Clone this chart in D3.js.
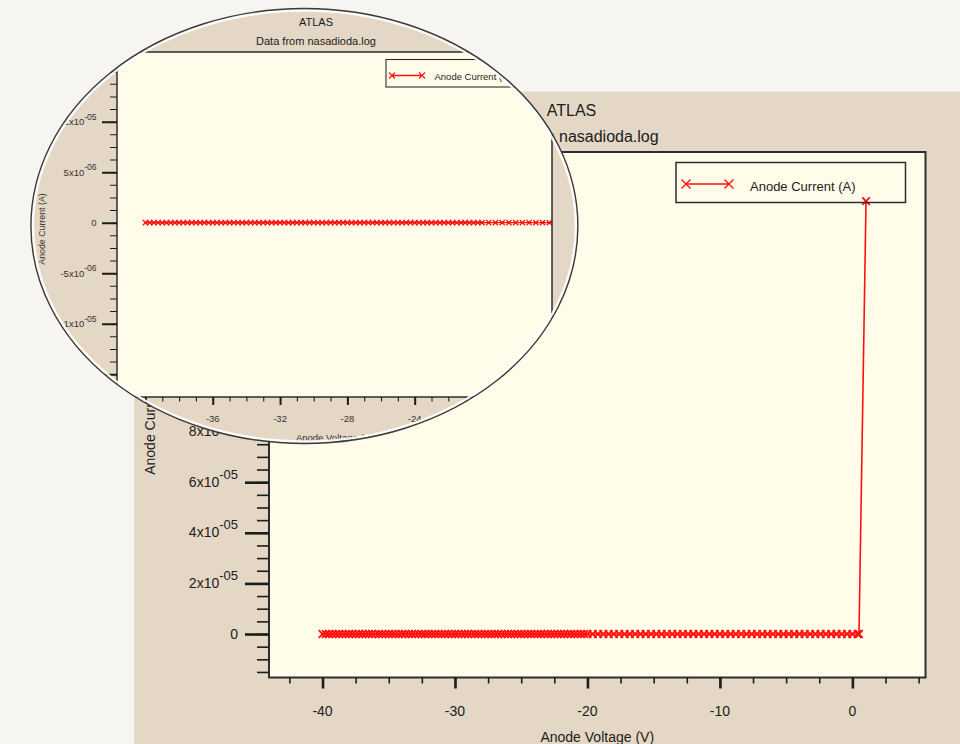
<!DOCTYPE html>
<html>
<head>
<meta charset="utf-8">
<script src="https://cdn.jsdelivr.net/npm/d3@7"></script>
<style>
  html, body { margin: 0; padding: 0; background: #f6f5f2; }
  svg { display: block; font-family: "Liberation Sans", Arial, sans-serif; }
</style>
</head>
<body>
<svg id="chart" width="960" height="744"></svg>
<script>
// ---- data: anode I-V sweep from nasadioda.log ----
const titleLines = ["ATLAS", "Data from nasadioda.log"];
const seriesName = "Anode Current (A)";
const xTitle = "Anode Voltage (V)";
const yTitle = "Anode Current (A)";

const anodeVoltage = [
  -40, -39.75, -39.5, -39.25, -39, -38.75, -38.5, -38.25, -38, -37.75,
  -37.5, -37.25, -37, -36.75, -36.5, -36.25, -36, -35.75, -35.5, -35.25,
  -35, -34.75, -34.5, -34.25, -34, -33.75, -33.5, -33.25, -33, -32.75,
  -32.5, -32.25, -32, -31.75, -31.5, -31.25, -31, -30.75, -30.5, -30.25,
  -30, -29.75, -29.5, -29.25, -29, -28.75, -28.5, -28.25, -28, -27.75,
  -27.5, -27.25, -27, -26.75, -26.5, -26.25, -26, -25.75, -25.5, -25.25,
  -25, -24.75, -24.5, -24.25, -24, -23.75, -23.5, -23.25, -23, -22.75,
  -22.5, -22.25, -22, -21.75, -21.5, -21.25, -21, -20.75, -20.5, -20.25,
  -20,
  -19.6, -19.2, -18.8, -18.4, -18, -17.6, -17.2, -16.8, -16.4, -16,
  -15.6, -15.2, -14.8, -14.4, -14, -13.6, -13.2, -12.8, -12.4, -12,
  -11.6, -11.2, -10.8, -10.4, -10, -9.6, -9.2, -8.8, -8.4, -8,
  -7.6, -7.2, -6.8, -6.4, -6, -5.6, -5.2, -4.8, -4.4, -4,
  -3.6, -3.2, -2.8, -2.4, -2, -1.6, -1.2, -0.8, -0.4, 0,
  0.4, 0.5, 1.03
];

const anodeCurrent = [
  0, 0, 0, 0, 0, 0, 0, 0, 0, 0,
  0, 0, 0, 0, 0, 0, 0, 0, 0, 0,
  0, 0, 0, 0, 0, 0, 0, 0, 0, 0,
  0, 0, 0, 0, 0, 0, 0, 0, 0, 0,
  0, 0, 0, 0, 0, 0, 0, 0, 0, 0,
  0, 0, 0, 0, 0, 0, 0, 0, 0, 0,
  0, 0, 0, 0, 0, 0, 0, 0, 0, 0,
  0, 0, 0, 0, 0, 0, 0, 0, 0, 0,
  0,
  0, 0, 0, 0, 0, 0, 0, 0, 0, 0,
  0, 0, 0, 0, 0, 0, 0, 0, 0, 0,
  0, 0, 0, 0, 0, 0, 0, 0, 0, 0,
  0, 0, 0, 0, 0, 0, 0, 0, 0, 0,
  0, 0, 0, 0, 0, 0, 0, 0, 0, 0,
  0, 0, 1.711e-4
];

// tick values: full view and magnified view
const mainXTicks = [-40, -30, -20, -10, 0];
const mainYTicks = [0, 2e-5, 4e-5, 6e-5, 8e-5, 1e-4, 1.2e-4, 1.4e-4, 1.6e-4, 1.8e-4];
const zoomXTicks = [-40, -36, -32, -28, -24, -20, -16];
const zoomYTicks = [-1.5e-5, -1e-5, -5e-6, 0, 5e-6, 1e-5, 1.5e-5];

// ---- styling ----
const PAGE_BG = "#f6f5f2";
const PANEL_BG = "#e4d7c5";
const PLOT_BG = "#fffde9";
const INK = "#1c1c1c";
const FRAME = "#2e2e2e";
const RED = "#ff1010";

const svg = d3.select("#chart");
const defs = svg.append("defs");

const xPath = s => `M${-s},${-s}L${s},${s}M${-s},${s}L${s},${-s}`;

// scientific label "2x10" with superscript "-05"
function sciParts(v) {
  if (Math.abs(v) < 1e-15) return ["0", ""];
  const e = Math.floor(Math.log10(Math.abs(v)) + 1e-9);
  const m = +(v / Math.pow(10, e)).toFixed(2);
  const es = (e < 0 ? "-" : "+") + String(Math.abs(e)).padStart(2, "0");
  return [m + "x10", es];
}

function minorValues(domain, step) {
  const lo = Math.min(domain[0], domain[1]), hi = Math.max(domain[0], domain[1]);
  return d3.range(Math.ceil(lo / step - 1e-9), Math.floor(hi / step + 1e-9) + 1).map(k => k * step);
}

function drawPlot(root, cfg, id) {
  const x = d3.scaleLinear().domain(cfg.xDomain).range([cfg.left, cfg.right]);
  const y = d3.scaleLinear().domain(cfg.yDomain).range([cfg.bottom, cfg.top]);

  // plot area
  root.append("rect")
    .attr("x", cfg.left).attr("y", cfg.top)
    .attr("width", cfg.right - cfg.left).attr("height", cfg.bottom - cfg.top)
    .attr("fill", PLOT_BG);

  // titles
  titleLines.forEach((t, i) => {
    root.append("text")
      .attr("x", cfg.titleX).attr("y", cfg.titleY[i])
      .attr("text-anchor", "middle")
      .attr("font-size", cfg.titleSize)
      .attr("fill", INK)
      .text(t);
  });

  // data, clipped to the plot area
  defs.append("clipPath").attr("id", id + "-plotclip")
    .append("rect")
    .attr("x", cfg.left).attr("y", cfg.top)
    .attr("width", cfg.right - cfg.left).attr("height", cfg.bottom - cfg.top);

  const pts = anodeVoltage.map((v, i) => [v, anodeCurrent[i]]);
  const dataG = root.append("g").attr("clip-path", `url(#${id}-plotclip)`);
  dataG.append("path")
    .datum(pts)
    .attr("d", d3.line().x(d => x(d[0])).y(d => y(d[1])))
    .attr("fill", "none")
    .attr("stroke", RED)
    .attr("stroke-width", cfg.lineW);
  dataG.selectAll("path.mk")
    .data(pts)
    .join("path")
    .attr("class", "mk")
    .attr("transform", d => `translate(${x(d[0])},${y(d[1])})`)
    .attr("d", xPath(cfg.mark))
    .attr("fill", "none")
    .attr("stroke", RED)
    .attr("stroke-width", cfg.markW);

  // frame
  root.append("rect")
    .attr("x", cfg.left).attr("y", cfg.top)
    .attr("width", cfg.right - cfg.left).attr("height", cfg.bottom - cfg.top)
    .attr("fill", "none")
    .attr("stroke", FRAME)
    .attr("stroke-width", cfg.frameW);

  // x axis ticks (outward, below the frame)
  const xMajors = cfg.xTicks.filter(v => v >= cfg.xDomain[0] && v <= cfg.xDomain[1]);
  const xAxisG = root.append("g").attr("transform", `translate(0,${cfg.bottom})`);
  xAxisG.append("g")
    .call(d3.axisBottom(x).tickValues(minorValues(cfg.xDomain, cfg.xMinor)).tickSize(cfg.xMinorLen).tickFormat(""))
    .call(g => g.select(".domain").remove())
    .call(g => g.selectAll("line").attr("stroke", INK).attr("stroke-width", cfg.minorW));
  xAxisG.append("g")
    .call(d3.axisBottom(x).tickValues(xMajors).tickSize(cfg.xMajorLen).tickFormat(""))
    .call(g => g.select(".domain").remove())
    .call(g => g.selectAll("line").attr("stroke", INK).attr("stroke-width", cfg.majorW));
  root.append("g").selectAll("text")
    .data(xMajors)
    .join("text")
    .attr("x", d => x(d)).attr("y", cfg.xLabelY)
    .attr("text-anchor", "middle")
    .attr("font-size", cfg.tickSize)
    .attr("fill", cfg.tickInk)
    .text(d => String(d));

  // y axis ticks (outward, left of the frame)
  const yMajors = cfg.yTicks.filter(v => v >= cfg.yDomain[0] && v <= cfg.yDomain[1]);
  const yAxisG = root.append("g").attr("transform", `translate(${cfg.left},0)`);
  yAxisG.append("g")
    .call(d3.axisLeft(y).tickValues(minorValues(cfg.yDomain, cfg.yMinor)).tickSize(cfg.yMinorLen).tickFormat(""))
    .call(g => g.select(".domain").remove())
    .call(g => g.selectAll("line").attr("stroke", INK).attr("stroke-width", cfg.minorW));
  yAxisG.append("g")
    .call(d3.axisLeft(y).tickValues(yMajors).tickSize(cfg.yMajorLen).tickFormat(""))
    .call(g => g.select(".domain").remove())
    .call(g => g.selectAll("line").attr("stroke", INK).attr("stroke-width", cfg.majorW));
  const yLab = root.append("g").selectAll("text")
    .data(yMajors)
    .join("text")
    .attr("x", cfg.yLabelX).attr("y", d => y(d) + cfg.yLabelDy)
    .attr("text-anchor", "end")
    .attr("font-size", cfg.tickSize)
    .attr("fill", cfg.tickInk);
  yLab.each(function (d) {
    const [m, e] = sciParts(d);
    const t = d3.select(this);
    t.append("tspan").text(m);
    if (e) t.append("tspan").attr("dy", -cfg.supRise).attr("font-size", cfg.supSize).text(e);
  });

  // axis titles
  root.append("text")
    .attr("x", (cfg.left + cfg.right) / 2).attr("y", cfg.xTitleY)
    .attr("text-anchor", "middle")
    .attr("font-size", cfg.axisTitleSize)
    .attr("fill", cfg.tickInk)
    .text(xTitle);
  root.append("text")
    .attr("transform", `translate(${cfg.yTitleX},${cfg.yTitleCY}) rotate(-90)`)
    .attr("text-anchor", "middle")
    .attr("font-size", cfg.yTitleSize)
    .attr("fill", cfg.tickInk)
    .text(yTitle);

  // legend
  const L = cfg.legend;
  const lg = root.append("g");
  lg.append("rect")
    .attr("x", L.x).attr("y", L.y).attr("width", L.w).attr("height", L.h)
    .attr("fill", "none").attr("stroke", FRAME).attr("stroke-width", L.strokeW);
  lg.append("line")
    .attr("x1", L.sx1).attr("x2", L.sx2).attr("y1", L.sy).attr("y2", L.sy)
    .attr("stroke", RED).attr("stroke-width", cfg.lineW);
  [L.sx1, L.sx2].forEach(px => {
    lg.append("path")
      .attr("transform", `translate(${px},${L.sy})`)
      .attr("d", xPath(L.mark))
      .attr("fill", "none").attr("stroke", RED).attr("stroke-width", L.markW);
  });
  lg.append("text")
    .attr("x", L.tx).attr("y", L.ty)
    .attr("font-size", L.size)
    .attr("fill", INK)
    .text(seriesName);
}

// ---- page background and main panel ----
svg.append("rect").attr("width", 960).attr("height", 744).attr("fill", PAGE_BG);
svg.append("rect").attr("x", 134).attr("y", 91.5).attr("width", 826).attr("height", 653).attr("fill", PANEL_BG);

const mainG = svg.append("g");
drawPlot(mainG, {
  left: 269, right: 925.5, top: 152, bottom: 677.5,
  xDomain: [-44.04, 5.52], yDomain: [-1.719e-5, 1.905e-4],
  xTicks: mainXTicks, yTicks: mainYTicks,
  xMinor: 2.5, yMinor: 5e-6,
  xMajorLen: 11, xMinorLen: 6, yMajorLen: 24, yMinorLen: 12,
  majorW: 2.6, minorW: 1.6, frameW: 2,
  lineW: 1.6, mark: 3.8, markW: 1.8,
  titleX: 571.5, titleY: [116, 142], titleSize: 16,
  tickSize: 14, supSize: 13, supRise: 8, tickInk: INK,
  xLabelY: 715.5, yLabelX: 238, yLabelDy: 4.5,
  axisTitleSize: 14, yTitleSize: 14, xTitleY: 742, yTitleX: 155, yTitleCY: 418,
  legend: { x: 676, y: 162.5, w: 229.5, h: 40, strokeW: 1.5,
            sx1: 686, sx2: 729, sy: 184, mark: 4.5, markW: 1.4,
            tx: 750, ty: 191, size: 13 }
}, "main");

// ---- magnifier lens ----
const lens = { cx: 304.4, cy: 226, rx: 273.5, ry: 217.5 };
defs.append("clipPath").attr("id", "lens-shape")
  .append("ellipse")
  .attr("cx", lens.cx).attr("cy", lens.cy).attr("rx", lens.rx).attr("ry", lens.ry);

const lensG = svg.append("g").attr("clip-path", "url(#lens-shape)");
lensG.append("rect").attr("x", 0).attr("y", 0).attr("width", 960).attr("height", 744).attr("fill", PANEL_BG);

drawPlot(lensG, {
  left: 117, right: 552, top: 52, bottom: 397,
  xDomain: [-41.69, -15.84], yDomain: [-1.726e-5, 1.69e-5],
  xTicks: zoomXTicks, yTicks: zoomYTicks,
  xMinor: 1, yMinor: 1.25e-6,
  xMajorLen: 8, xMinorLen: 4.5, yMajorLen: 15, yMinorLen: 7,
  majorW: 2, minorW: 1.1, frameW: 1.5,
  lineW: 1.3, mark: 2.6, markW: 1.3,
  titleX: 316, titleY: [26, 45], titleSize: 11,
  tickSize: 9.5, supSize: 8.5, supRise: 5.5, tickInk: "#333",
  xLabelY: 421.5, yLabelX: 96.5, yLabelDy: 3.5,
  axisTitleSize: 9.5, yTitleSize: 8.8, xTitleY: 441, yTitleX: 44.5, yTitleCY: 229,
  legend: { x: 386, y: 59.5, w: 158, h: 27.5, strokeW: 1.1,
            sx1: 392, sx2: 422, sy: 75.5, mark: 3, markW: 1.1,
            tx: 434.5, ty: 79.5, size: 9.5 }
}, "lens");

// lens rim: white inner ring and dark outline
svg.append("ellipse")
  .attr("cx", lens.cx).attr("cy", lens.cy).attr("rx", lens.rx - 2).attr("ry", lens.ry - 2)
  .attr("fill", "none").attr("stroke", "#ffffff").attr("stroke-width", 2.5).attr("opacity", 0.9);
svg.append("ellipse")
  .attr("cx", lens.cx).attr("cy", lens.cy).attr("rx", lens.rx).attr("ry", lens.ry)
  .attr("fill", "none").attr("stroke", "#3a3a3a").attr("stroke-width", 1.4);
</script>
</body>
</html>
